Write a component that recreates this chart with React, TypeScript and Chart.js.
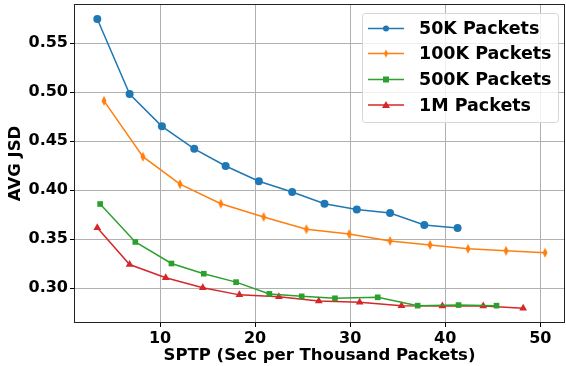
import React, { useEffect, useRef } from "react";
import { Chart, registerables } from "chart.js";

Chart.register(...registerables);

const seriesNames = ["50K Packets", "100K Packets", "500K Packets", "1M Packets"];
const seriesColors = ["#1f77b4", "#ff7f0e", "#2ca02c", "#d62728"];

const x50K = [3.4, 6.8, 10.2, 13.6, 16.9, 20.4, 23.9, 27.3, 30.7, 34.2, 37.8, 41.3];
const y50K = [0.5745, 0.498, 0.465, 0.442, 0.4245, 0.409, 0.398, 0.386, 0.38, 0.3765, 0.3643, 0.3612];

const x100K = [4.1, 8.2, 12.1, 16.4, 20.9, 25.4, 29.9, 34.2, 38.4, 42.4, 46.4, 50.5];
const y100K = [0.491, 0.434, 0.406, 0.386, 0.3725, 0.36, 0.355, 0.348, 0.344, 0.34, 0.338, 0.336];

const x500K = [3.7, 7.4, 11.2, 14.6, 18.0, 21.5, 24.9, 28.4, 32.9, 37.1, 41.4, 45.4];
const y500K = [0.3857, 0.347, 0.325, 0.3146, 0.306, 0.294, 0.2915, 0.2895, 0.2905, 0.282, 0.2826, 0.282];

const x1M = [3.4, 6.8, 10.6, 14.5, 18.35, 22.5, 26.7, 31.0, 35.4, 39.7, 44.0, 48.2];
const y1M = [0.3615, 0.324, 0.3105, 0.3003, 0.293, 0.291, 0.2867, 0.2854, 0.282, 0.2816, 0.2816, 0.2793];

const xTicks = [10, 20, 30, 40, 50];
const yTicks = [0.3, 0.35, 0.4, 0.45, 0.5, 0.55];

const xTitle = "SPTP (Sec per Thousand Packets)";
const yTitle = "AVG JSD";

const FONT = "'DejaVu Sans', sans-serif";

function makeThinDiamond(color: string, size: number) {
  const c = document.createElement("canvas");
  const w = size * 1.2;
  const h = size * 2 + 2;
  c.width = Math.ceil(w);
  c.height = Math.ceil(h);
  const ctx = c.getContext("2d")!;
  ctx.fillStyle = color;
  ctx.beginPath();
  ctx.moveTo(w / 2, 1);
  ctx.lineTo(w - 0.5, h / 2);
  ctx.lineTo(w / 2, h - 1);
  ctx.lineTo(0.5, h / 2);
  ctx.closePath();
  ctx.fill();
  return c;
}

export default function App() {
  const ref = useRef<HTMLCanvasElement | null>(null);

  useEffect(() => {
    document.body.style.margin = "0";
    const canvas = ref.current!;
    const diamond = makeThinDiamond(seriesColors[1], 5);
    const pointStyles: any[] = ["circle", diamond, "rect", "triangle"];
    const radii = [4, 5, 4, 4.5];
    const xs = [x50K, x100K, x500K, x1M];
    const ys = [y50K, y100K, y500K, y1M];

    const datasets = seriesNames.map((name, s) => ({
      label: name,
      data: xs[s].map((x, i) => ({ x, y: ys[s][i] })),
      borderColor: seriesColors[s],
      backgroundColor: seriesColors[s],
      borderWidth: 1.5,
      pointStyle: pointStyles[s],
      pointRadius: radii[s],
      pointBorderWidth: 0,
      tension: 0,
    }));

    const frameAndLegend = {
      id: "frameAndLegend",
      afterDatasetsDraw(chart: any) {
        const { ctx, chartArea } = chart;
        ctx.save();
        ctx.strokeStyle = "#222";
        ctx.lineWidth = 1;
        ctx.strokeRect(
          Math.round(chartArea.left) + 0.5,
          Math.round(chartArea.top) + 0.5,
          Math.round(chartArea.right - chartArea.left) - 1,
          Math.round(chartArea.bottom - chartArea.top) - 1
        );
        // legend
        const bx = 362, by = 13, bw = 196, bh = 109;
        ctx.fillStyle = "rgba(255,255,255,0.8)";
        ctx.strokeStyle = "#d6d6d6";
        ctx.lineWidth = 1;
        ctx.beginPath();
        if ((ctx as any).roundRect) (ctx as any).roundRect(bx + 0.5, by + 0.5, bw, bh, 3);
        else ctx.rect(bx + 0.5, by + 0.5, bw, bh);
        ctx.fill();
        ctx.stroke();
        const rows = [28.5, 53.5, 79.5, 105];
        seriesNames.forEach((name, s) => {
          const y = rows[s];
          ctx.strokeStyle = seriesColors[s];
          ctx.lineWidth = 1.5;
          ctx.beginPath();
          ctx.moveTo(368, y);
          ctx.lineTo(404, y);
          ctx.stroke();
          ctx.fillStyle = seriesColors[s];
          const cx = 386;
          if (s === 0) {
            ctx.beginPath();
            ctx.arc(cx, y, 3, 0, Math.PI * 2);
            ctx.fill();
          } else if (s === 1) {
            ctx.drawImage(diamond, cx - (diamond.width * 0.8) / 2, y - (diamond.height * 0.8) / 2, diamond.width * 0.8, diamond.height * 0.8);
          } else if (s === 2) {
            ctx.fillRect(cx - 3, y - 3, 6, 6);
          } else {
            ctx.beginPath();
            ctx.moveTo(cx, y - 4);
            ctx.lineTo(cx + 4, y + 3);
            ctx.lineTo(cx - 4, y + 3);
            ctx.closePath();
            ctx.fill();
          }
          ctx.fillStyle = "#000";
          ctx.font = `bold 17.5px ${FONT}`;
          ctx.textBaseline = "middle";
          ctx.textAlign = "left";
          ctx.fillText(name, 419, y + 1);
        });
        ctx.restore();
      },
    };

    const chart = new Chart(canvas, {
      type: "line",
      data: { datasets },
      options: {
        animation: false,
        responsive: false,
        maintainAspectRatio: false,
        layout: { autoPadding: false, padding: { top: 4, right: 1, left: 0, bottom: 0 } },
        plugins: {
          legend: { display: false },
          tooltip: { enabled: false },
        },
        scales: {
          x: {
            type: "linear",
            min: 0.95,
            max: 52.6,
            afterBuildTicks: (sc: any) => {
              sc.ticks = xTicks.map((v) => ({ value: v }));
            },
            afterFit: (sc: any) => {
              sc.height = 43;
              sc.paddingLeft = 0;
              sc.paddingRight = 0;
            },
            grid: { color: "#b0b0b0", lineWidth: 1, tickColor: "#000", tickLength: 4, drawTicks: true },
            border: { display: false },
            ticks: {
              color: "#000",
              font: { family: FONT, size: 16, weight: "bold" },
              padding: 2,
              maxRotation: 0,
              callback: (v: any) => String(v),
            },
            title: {
              display: true,
              text: xTitle,
              color: "#000",
              font: { family: FONT, size: 16.5, weight: "bold" },
              padding: { top: 0, bottom: 0 },
            },
          },
          y: {
            type: "linear",
            min: 0.2643,
            max: 0.5898,
            afterBuildTicks: (sc: any) => {
              sc.ticks = yTicks.map((v) => ({ value: v }));
            },
            afterFit: (sc: any) => {
              sc.width = 74;
              sc.paddingTop = 0;
              sc.paddingBottom = 0;
            },
            grid: { color: "#b0b0b0", lineWidth: 1, tickColor: "#000", tickLength: 4, drawTicks: true },
            border: { display: false },
            ticks: {
              color: "#000",
              font: { family: FONT, size: 16, weight: "bold" },
              padding: 2,
              callback: (v: any) => Number(v).toFixed(2),
            },
            title: {
              display: true,
              text: yTitle,
              color: "#000",
              font: { family: FONT, size: 16.5, weight: "bold" },
              padding: { top: 6, bottom: 0 },
            },
          },
        },
      },
      plugins: [frameAndLegend],
    });
    return () => chart.destroy();
  }, []);

  return (
    <div style={{ width: 566, height: 366 }}>
      <canvas ref={ref} width={566} height={366} style={{ display: "block", width: 566, height: 366 }} />
    </div>
  );
}
